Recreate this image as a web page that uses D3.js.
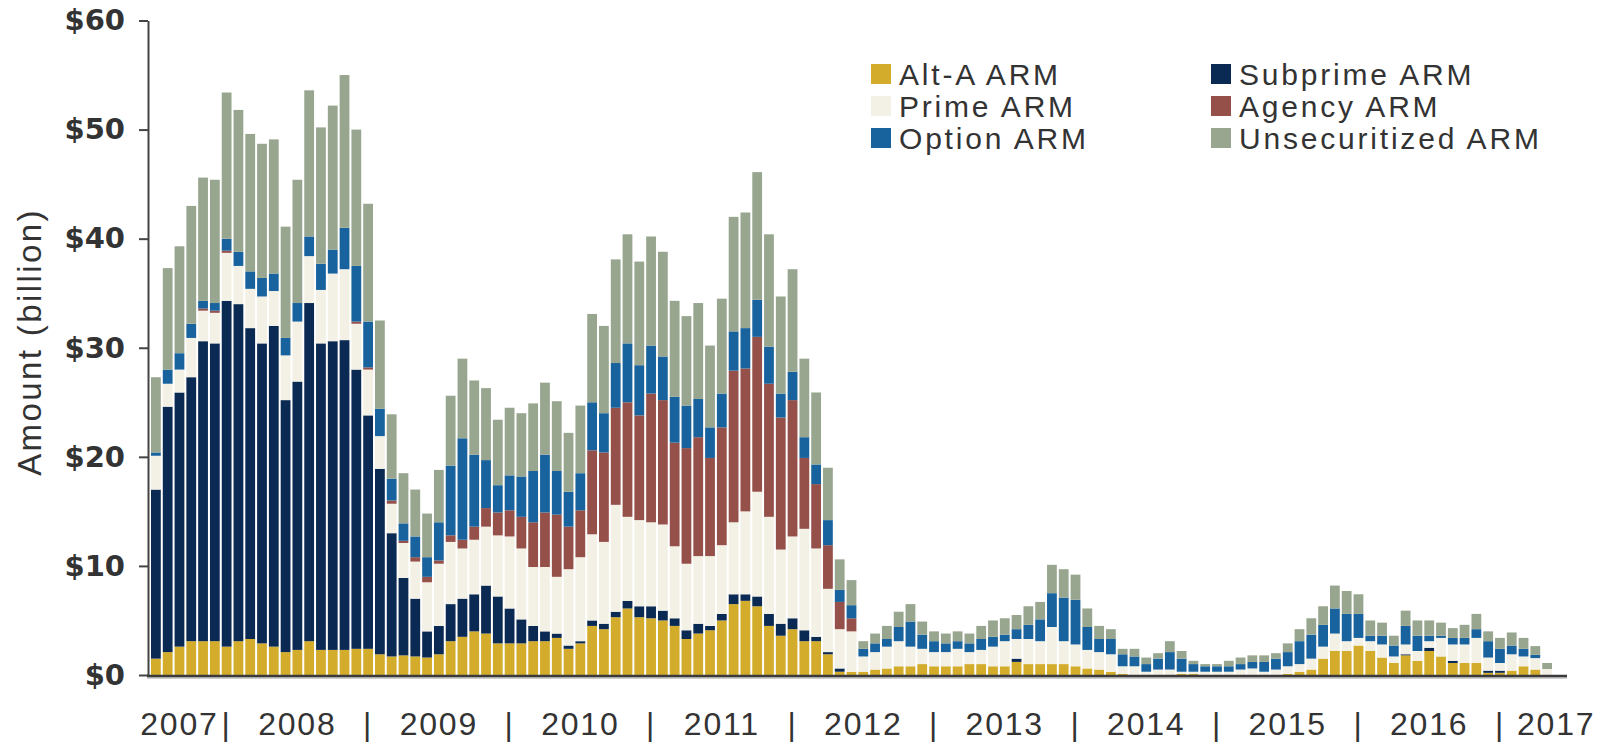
<!DOCTYPE html>
<html>
<head>
<meta charset="utf-8">
<script src="https://cdn.jsdelivr.net/npm/d3@7"></script>
<style>
  body { margin: 0; background: #fff; }
  svg { display: block; }
</style>
</head>
<body>
<script>
// monthly volumes, Jul 2007 - May 2017 ($ billion)
var months = d3.timeMonth.range(new Date(2007, 6, 1), new Date(2017, 5, 1));

var altA = [1.5, 2.1, 2.6, 3.1, 3.1, 3.1, 2.6, 3.1, 3.3, 2.9,
            2.6, 2.1, 2.3, 3.1, 2.3, 2.3, 2.3, 2.4, 2.4, 1.9,
            1.7, 1.8, 1.7, 1.6, 1.9, 3.1, 3.5, 4.0, 3.8, 2.9,
            2.9, 2.9, 3.1, 3.1, 3.4, 2.4, 2.9, 4.5, 4.2, 5.3,
            6.1, 5.3, 5.2, 5.0, 4.5, 3.3, 3.8, 4.1, 5.0, 6.5,
            6.8, 6.3, 4.5, 3.6, 4.2, 3.1, 3.1, 1.9, 0.3, 0.3,
            0.3, 0.5, 0.6, 0.8, 0.8, 1.0, 0.8, 0.8, 0.8, 1.0,
            1.0, 0.8, 0.8, 1.2, 1.0, 1.0, 1.0, 1.0, 0.8, 0.6,
            0.5, 0.3, 0.1, 0, 0, 0, 0, 0.1, 0.1, 0,
            0, 0, 0, 0, 0, 0, 0.1, 0.3, 0.5, 1.5,
            2.2, 2.2, 2.7, 2.2, 1.6, 1.1, 1.8, 1.3, 2.2, 1.7,
            1.1, 1.1, 1.1, 0.2, 0.2, 0.4, 0.8, 0.5, 0];

var subprime = [15.5, 22.5, 23.3, 24.2, 27.5, 27.3, 31.7, 30.9, 28.5, 27.5,
                29.4, 23.1, 24.6, 31.0, 28.1, 28.3, 28.4, 25.6, 21.4, 17.0,
                11.3, 7.1, 5.3, 2.4, 2.6, 3.4, 3.5, 3.4, 4.4, 4.3,
                3.2, 2.2, 1.4, 0.9, 0.4, 0.3, 0.2, 0.5, 0.5, 0.5,
                0.7, 1.0, 1.1, 0.9, 0.7, 0.8, 0.9, 0.4, 0.6, 0.9,
                0.6, 0.9, 1.1, 1.1, 1.0, 1.0, 0.4, 0.2, 0.3, 0,
                0, 0, 0, 0, 0, 0, 0, 0, 0, 0,
                0, 0, 0, 0.3, 0, 0, 0, 0, 0, 0,
                0, 0, 0, 0, 0, 0, 0, 0, 0, 0,
                0, 0, 0, 0, 0, 0, 0, 0, 0, 0,
                0, 0, 0, 0, 0, 0, 0.1, 0, 0.3, 0,
                0.2, 0, 0, 0.2, 0.2, 0, 0, 0, 0];

var prime = [3.1, 2.1, 2.1, 3.6, 2.8, 2.8, 4.4, 3.5, 3.6, 4.3,
             3.2, 4.1, 5.5, 4.3, 4.9, 6.2, 6.5, 4.2, 4.2, 3.0,
             2.7, 3.2, 3.4, 4.5, 5.7, 5.7, 4.6, 5.0, 5.4, 5.6,
             6.6, 6.5, 5.4, 5.9, 5.2, 7.0, 7.7, 7.9, 7.5, 9.8,
             7.7, 7.9, 7.7, 7.9, 6.6, 6.1, 6.2, 6.4, 6.3, 6.6,
             7.6, 9.6, 8.9, 6.8, 7.5, 9.3, 8.1, 5.8, 3.6, 3.7,
             1.4, 1.6, 2.0, 2.3, 1.8, 1.4, 1.3, 1.3, 1.6, 1.1,
             1.3, 1.8, 2.3, 1.8, 2.3, 2.1, 3.4, 2.1, 2.0, 1.7,
             1.6, 1.6, 0.7, 0.8, 0.3, 0.5, 0.5, 0.2, 0.2, 0.3,
             0.3, 0.3, 0.5, 0.6, 0.3, 0.5, 0.7, 0.7, 1.0, 1.1,
             1.6, 0.9, 0.7, 0.9, 1.2, 0.6, 0.9, 0.9, 0.6, 1.7,
             1.5, 1.7, 2.3, 1.2, 0.7, 1.5, 0.9, 1.05, 0.55];

var agency = [0, 0, 0, 0, 0.2, 0.2, 0.2, 0, 0, 0,
              0, 0, 0, 0, 0, 0, 0, 0.2, 0.2, 0,
              0.3, 0.2, 0.4, 0.5, 0.3, 0.6, 0.8, 1.2, 1.7, 2.1,
              2.4, 2.9, 4.1, 5.0, 5.7, 3.9, 4.3, 7.7, 8.2, 8.9,
              10.5, 9.6, 11.8, 11.4, 9.5, 10.6, 10.9, 9.0, 10.8, 13.9,
              13.1, 14.2, 12.2, 12.1, 12.5, 6.5, 5.9, 4.0, 2.5, 1.2,
              0, 0, 0, 0, 0, 0, 0, 0, 0, 0,
              0, 0, 0, 0, 0, 0, 0, 0, 0, 0,
              0, 0, 0, 0, 0, 0, 0, 0, 0, 0,
              0, 0, 0, 0, 0, 0, 0, 0, 0, 0,
              0, 0, 0, 0, 0, 0, 0, 0, 0, 0,
              0, 0, 0, 0, 0, 0, 0, 0, 0];

var option = [0.3, 1.3, 1.5, 1.3, 0.7, 0.7, 1.1, 1.3, 1.6, 1.7,
              1.6, 1.6, 1.7, 1.8, 2.4, 2.2, 3.8, 5.1, 4.2, 2.5,
              2.0, 1.6, 1.9, 1.8, 3.5, 6.4, 9.3, 6.6, 4.4, 2.5,
              3.2, 3.7, 4.7, 5.3, 4.0, 3.2, 3.4, 4.4, 3.6, 4.1,
              5.4, 4.6, 4.4, 4.0, 4.2, 3.9, 3.5, 2.8, 3.1, 3.6,
              3.7, 3.4, 3.4, 2.2, 2.6, 1.9, 1.8, 2.3, 1.1, 1.2,
              0.7, 0.8, 0.7, 1.3, 2.3, 1.3, 1.0, 0.8, 0.7, 0.8,
              1.0, 0.9, 0.6, 0.9, 1.3, 2.0, 3.1, 4.0, 4.1, 2.1,
              1.2, 1.4, 1.1, 0.9, 0.7, 1.0, 1.6, 1.2, 0.7, 0.5,
              0.5, 0.5, 0.5, 0.6, 0.9, 1.0, 1.3, 2.1, 2.2, 2.0,
              2.3, 2.5, 2.2, 0.5, 0.8, 1.0, 1.7, 1.4, 0.5, 0.2,
              0.6, 0.6, 0.8, 1.5, 1.3, 0.8, 0.7, 0.3, 0];

var unsecuritized = [6.9, 9.3, 9.8, 10.8, 11.3, 11.3, 13.4, 13.0, 12.6, 12.3,
                     12.3, 10.2, 11.3, 13.4, 12.5, 13.2, 14.0, 12.5, 10.8, 8.1,
                     5.9, 4.6, 4.3, 4.0, 4.8, 6.4, 7.3, 6.8, 6.6, 6.0,
                     6.2, 5.8, 6.2, 6.6, 6.4, 5.4, 6.2, 8.1, 8.0, 9.5,
                     10.0, 9.5, 10.0, 9.6, 8.8, 8.2, 8.8, 7.5, 8.7, 10.5,
                     10.6, 11.7, 10.3, 8.9, 9.4, 7.2, 6.6, 4.8, 2.8, 2.3,
                     0.7, 0.9, 1.2, 1.4, 1.6, 1.2, 0.9, 0.9, 0.9, 0.9,
                     1.2, 1.5, 1.5, 1.3, 1.7, 1.6, 2.6, 2.6, 2.3, 1.7,
                     1.2, 0.9, 0.5, 0.7, 0.6, 0.5, 1.0, 0.7, 0.3, 0.2,
                     0.2, 0.5, 0.6, 0.6, 0.6, 0.5, 0.8, 1.1, 1.5, 1.7,
                     2.1, 2.1, 1.8, 1.4, 1.2, 0.9, 1.4, 1.4, 1.4, 1.2,
                     0.9, 1.2, 1.4, 0.9, 1.0, 1.2, 1.0, 0.8, 0.55];

var seriesNames = ['Alt-A ARM', 'Subprime ARM', 'Prime ARM', 'Agency ARM',
                   'Option ARM', 'Unsecuritized ARM'];
var seriesColors = ['#d3ac2b', '#0b2a53', '#f3f1e5', '#96504a', '#18639d', '#98a68f'];
var yearLabels = ['2007', '2008', '2009', '2010', '2011', '2012', '2013',
                  '2014', '2015', '2016', '2017'];
var yTicks = [0, 10, 20, 30, 40, 50, 60];

var w = 1614,
    h = 743;

var svg = d3.select('body')
            .append('svg')
            .attr('width', w)
            .attr('height', h);

// one row per month, keyed by series name
var series = [altA, subprime, prime, agency, option, unsecuritized];
var rows = months.map(function(m, i) {
   var r = { month: m };
   seriesNames.forEach(function(s, j) { r[s] = series[j][i]; });
   return r;
});

var stacked = d3.stack().keys(seriesNames)(rows);

var xScale = d3.scaleBand()
               .domain(months)
               .range([151, 1552])
               .paddingInner(0.17)
               .paddingOuter(0);

var yScale = d3.scaleLinear()
               .domain([0, 60])
               .range([675, 20.5]);

var color = d3.scaleOrdinal().domain(seriesNames).range(seriesColors);

// bars
svg.append('g')
   .selectAll('g')
   .data(stacked)
   .enter()
   .append('g')
   .attr('fill', function(d) { return color(d.key); })
   .selectAll('rect')
   .data(function(d) { return d; })
   .enter()
   .append('rect')
   .attr('x', function(d) { return xScale(d.data.month); })
   .attr('y', function(d) { return yScale(d[1]); })
   .attr('width', xScale.bandwidth())
   .attr('height', function(d) { return Math.max(0, yScale(d[0]) - yScale(d[1])); });

// y axis
var yAxis = svg.append('g')
   .attr('transform', 'translate(148,0)')
   .call(d3.axisLeft(yScale)
           .tickValues(yTicks)
           .tickSize(9)
           .tickSizeOuter(0)
           .tickPadding(14)
           .tickFormat(function(d) { return '$' + d; }));

yAxis.select('.domain').attr('stroke', '#444').attr('stroke-width', 2);
yAxis.selectAll('.tick line').attr('stroke', '#444').attr('stroke-width', 2);
yAxis.selectAll('.tick text')
     .attr('fill', '#333')
     .attr('font-family', 'DejaVu Sans')
     .attr('font-weight', 'bold')
     .attr('font-size', '29px');

// x axis line
svg.append('line')
   .attr('x1', 147).attr('x2', 1567)
   .attr('y1', 678).attr('y2', 678)
   .attr('stroke', '#d0d0d0').attr('stroke-width', 2);
svg.append('line')
   .attr('x1', 147).attr('x2', 1567)
   .attr('y1', 676).attr('y2', 676)
   .attr('stroke', '#3a3a3a').attr('stroke-width', 2.5);

// y axis title
svg.append('text')
   .attr('transform', 'translate(41,342) rotate(-90)')
   .attr('text-anchor', 'middle')
   .attr('font-family', 'Liberation Sans')
   .attr('font-size', '33px')
   .attr('letter-spacing', '2.4px')
   .attr('fill', '#333')
   .text('Amount (billion)');

// year labels with separators at each January
var sepX = yearLabels.slice(1).map(function(y) {
   return xScale(new Date(+y, 0, 1)) + xScale.bandwidth() / 2;
});

var xl = svg.append('g')
            .attr('font-family', 'Liberation Sans')
            .attr('font-size', '32px')
            .attr('letter-spacing', '1.8px')
            .attr('fill', '#333');

xl.selectAll('text.sep')
  .data(sepX)
  .enter()
  .append('text')
  .attr('class', 'sep')
  .attr('x', function(d) { return d; })
  .attr('y', 735)
  .attr('text-anchor', 'middle')
  .text('|');

xl.selectAll('text.year')
  .data(yearLabels)
  .enter()
  .append('text')
  .attr('class', 'year')
  .attr('y', 735)
  .attr('text-anchor', function(d, i) {
     if (i === 0) return 'end';
     if (i === yearLabels.length - 1) return 'start';
     return 'middle';
  })
  .attr('x', function(d, i) {
     if (i === 0) return sepX[0] - 8;
     if (i === yearLabels.length - 1) return sepX[sepX.length - 1] + 17;
     return (sepX[i - 1] + sepX[i]) / 2;
  })
  .text(function(d) { return d; });

// legend, two columns of three
var legend = svg.append('g')
                .selectAll('g')
                .data(seriesNames)
                .enter()
                .append('g')
                .attr('transform', function(d, i) {
                   var col = i % 2, row = Math.floor(i / 2);
                   return 'translate(' + (col ? 1211 : 871) + ',' + (64 + row * 32) + ')';
                });

legend.append('rect')
      .attr('width', 20)
      .attr('height', 20)
      .attr('fill', function(d) { return color(d); });

legend.append('text')
      .attr('x', 28)
      .attr('y', 20.5)
      .attr('font-family', 'Liberation Sans')
      .attr('font-size', '30px')
      .attr('letter-spacing', '2.8px')
      .attr('fill', '#333')
      .text(function(d) { return d; });
</script>
</body>
</html>
